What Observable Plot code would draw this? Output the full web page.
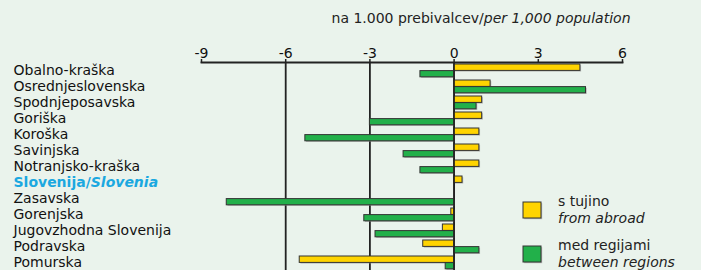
<!DOCTYPE html>
<html>
<head>
<meta charset="utf-8">
<script src="https://cdn.jsdelivr.net/npm/d3@7"></script>
<script src="https://cdn.jsdelivr.net/npm/@observablehq/plot@0.6"></script>
<style>
  html, body { margin: 0; padding: 0; background: #EAF3EC; }
  #chart { position: relative; width: 701px; height: 270px; overflow: hidden; }
  svg { font-family: "DejaVu Sans", sans-serif; }
</style>
</head>
<body>
<div id="chart"></div>
<script>
const regions = ["Obalno-kraška", "Osrednjeslovenska", "Spodnjeposavska", "Goriška", "Koroška", "Savinjska", "Notranjsko-kraška", "Slovenija/Slovenia", "Zasavska", "Gorenjska", "Jugovzhodna Slovenija", "Podravska", "Pomurska"];
const fromAbroad =     [4.5, 1.3, 1.0, 1.0, 0.9, 0.9, 0.9, 0.3, 0.0, -0.1, -0.4, -1.1, -5.5];
const betweenRegions = [-1.2, 4.7, 0.8, -3.0, -5.3, -1.8, -1.2, 0.0, -8.1, -3.2, -2.8, 0.9, -0.3];
const xTicks = [-9, -6, -3, 0, 3, 6];
const gridFull = [-6, -3, 0];
const gridPartial = [3];
const seriesNames = ["s tujino", "med regijami"];
const seriesNamesEn = ["from abroad", "between regions"];
const unitSl = "na 1.000 prebivalcev/";
const unitEn = "per 1,000 population";

const YELLOW = "#FFD400", GREEN = "#22B04A", STROKE = "#333";
const FONT = "DejaVu Sans, sans-serif";

const yellowData = regions.map((r, i) => ({region: r, v: fromAbroad[i]})).filter(d => d.v !== 0);
const greenData = regions.map((r, i) => ({region: r, v: betweenRegions[i]})).filter(d => d.v !== 0);
const partialRows = regions.slice(0, 7);

const yIns = {insetTop: 2, insetBottom: 7.6};
const gIns = {insetTop: 8.6, insetBottom: 1.2};

const plot = Plot.plot({
  width: 701,
  height: 270,
  marginLeft: 201,
  marginRight: 79,
  marginTop: 62,
  marginBottom: 0,
  style: {background: "#EAF3EC", fontFamily: FONT},
  x: {domain: [-9, 6], axis: null, label: null},
  y: {domain: regions, padding: 0, axis: null, label: null},
  marks: [
    Plot.ruleX(gridFull, {stroke: "#222", strokeWidth: 1.8}),
    Plot.ruleX(partialRows, {x: () => gridPartial[0], y: d => d, stroke: "#222", strokeWidth: 1.8}),
    Plot.ruleX([regions[7]], {x: () => gridPartial[0], y: d => d, stroke: "#222", strokeWidth: 1.8, insetBottom: 10}),
    // shadows
    Plot.barX(yellowData, {x: "v", y: "region", fill: "#8a8a8a", fillOpacity: 0.55, dx: 1.2, dy: 1.2, ...yIns}),
    Plot.barX(greenData, {x: "v", y: "region", fill: "#8a8a8a", fillOpacity: 0.55, dx: 1.2, dy: 1.2, ...gIns}),
    Plot.barX(yellowData, {x: "v", y: "region", fill: YELLOW, stroke: STROKE, strokeWidth: 1, ...yIns}),
    Plot.barX(greenData, {x: "v", y: "region", fill: GREEN, stroke: STROKE, strokeWidth: 1, ...gIns}),
    Plot.ruleX([0], {stroke: "#222", strokeWidth: 1.5}),
    Plot.frame({anchor: "top", stroke: "#222", strokeWidth: 1.8}),
    Plot.axisX({anchor: "top", label: null, ticks: xTicks, tickSize: 4, tickPadding: 1, tickFormat: d => String(d).replace("−", "-"), fontSize: 14, stroke: "#222", strokeWidth: 1.5, color: "#111"}),
    Plot.text(regions, {y: d => d, text: d => d, frameAnchor: "left", textAnchor: "start", dx: -188, fontSize: 14, fill: "#111"}),
    Plot.text([unitSl], {frameAnchor: "top-right", textAnchor: "end", lineAnchor: "bottom", dx: 8, dy: -40, fontSize: 14, fill: "#222", text: d => d})
  ]
});

document.getElementById("chart").appendChild(plot);
const svg = d3.select(plot);

// mixed style texts
svg.selectAll("text").each(function() {
  const t = d3.select(this);
  const s = this.textContent;
  if (s === "Slovenija/Slovenia") {
    t.text(null);
    t.attr("fill", "#1BA8E0").attr("font-weight", "bold");
    t.append("tspan").text("Slovenija/");
    t.append("tspan").attr("font-style", "italic").text("Slovenia");
  } else if (s === unitSl) {
    t.text(null);
    t.append("tspan").text(unitSl);
    t.append("tspan").attr("font-style", "italic").text(unitEn);
  }
});

// legend
const lg = svg.append("g").attr("font-family", FONT).attr("font-size", 14).attr("fill", "#222").attr("text-anchor", "start");
const legendRows = [{c: YELLOW, y: 202}, {c: GREEN, y: 246}];
legendRows.forEach((r, i) => {
  lg.append("rect").attr("x", 524.2).attr("y", r.y + 1.2).attr("width", 18).attr("height", 16).attr("fill", "#8a8a8a").attr("fill-opacity", 0.55);
  lg.append("rect").attr("x", 523).attr("y", r.y).attr("width", 18).attr("height", 16).attr("fill", r.c).attr("stroke", STROKE);
  lg.append("text").attr("x", 558).attr("y", r.y + 4).text(seriesNames[i]);
  lg.append("text").attr("x", 558).attr("y", r.y + 21).attr("font-style", "italic").text(seriesNamesEn[i]);
});
</script>
</body>
</html>
